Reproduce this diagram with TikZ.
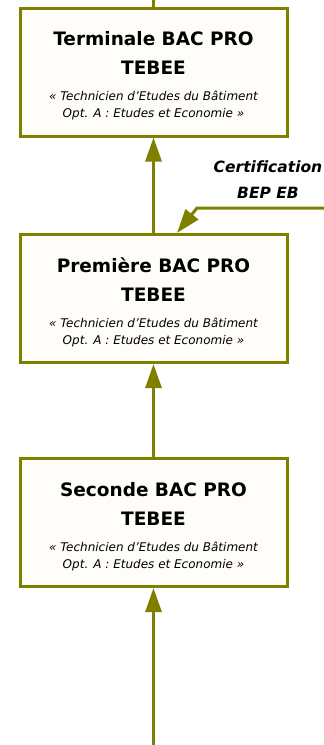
\documentclass[tikz,border=0pt]{standalone}
\usepackage{fontspec}
\setmainfont{DejaVu Sans}
\usetikzlibrary{arrows.meta}
\definecolor{oliveline}{HTML}{808000}
\definecolor{boxfill}{HTML}{FFFDF9}
\newcommand{\ttlfont}{\fontsize{18.5}{17}\selectfont\bfseries}
\newcommand{\subfont}{\fontsize{12}{17}\selectfont\itshape}
\newcommand{\stagetext}[1]{\ttlfont #1 BAC PRO\\[12pt]\ttlfont TEBEE\\[9pt]\subfont « Technicien d'Etudes du Bâtiment\\\subfont Opt. A : Etudes et Economie »}
\begin{document}
\begin{tikzpicture}[x=1pt,y=-1pt,
  stage/.style={draw=oliveline, line width=3pt, fill=boxfill, minimum width=267pt, minimum height=128pt, inner sep=0pt},
  stagelabel/.style={align=center, inner sep=0pt, font=\fontsize{10}{17}\selectfont},
  conn/.style={draw=oliveline, line width=3pt, -{Triangle[length=24pt,width=16pt]}},
  plain/.style={draw=oliveline, line width=3pt}]
\useasboundingbox (0,0) rectangle (324,745);
\node[stage] (b1) at (153.5,72) {};
\node[stage] (b2) at (153.5,298.5) {};
\node[stage] (b3) at (153.5,522.5) {};
\node[stagelabel] (t1) at (153.5,76) {\stagetext{Terminale}};
\node[stagelabel] (t2) at (153.5,302.5) {\stagetext{Première}};
\node[stagelabel] (t3) at (153.5,526.5) {\stagetext{Seconde}};
\coordinate (top) at (153.5,0);
\coordinate (bot) at (153.5,745);
\draw[plain] (b1.north) -- (top);
\draw[conn] (b2.north) -- (b1.south);
\draw[conn] (b3.north) -- (b2.south);
\draw[conn] (bot) -- (b3.south);
\coordinate (c1) at (324,208);
\coordinate (c2) at (197,208);
\coordinate (c3) at (177,0);
\draw[conn] (c1) -- (c2) -- (b2.north -| c3);
\node[font=\bfseries\itshape\fontsize{15.5}{26}\selectfont, align=center, inner sep=0pt] (cert) at (268,180) {Certification\\BEP EB};
\end{tikzpicture}
\end{document}
